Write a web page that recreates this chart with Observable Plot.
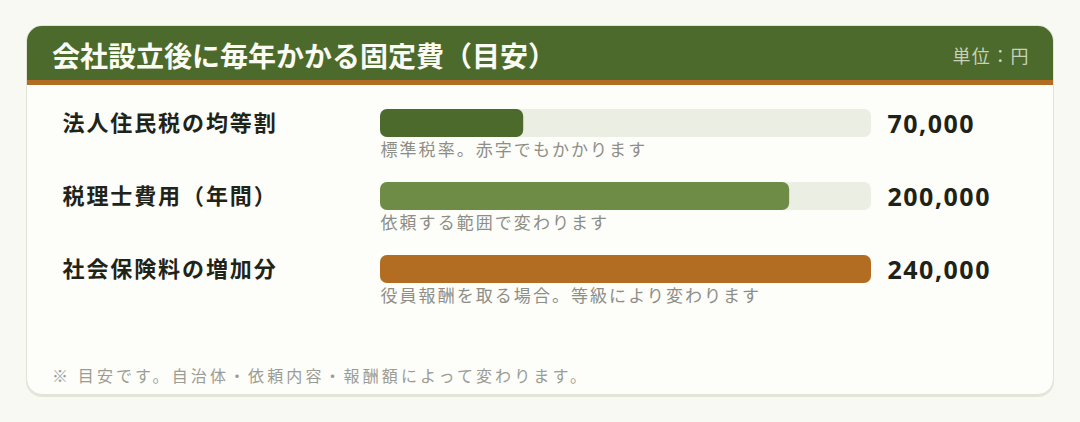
<!DOCTYPE html>
<html><head><meta charset="utf-8">
<script src="https://cdn.jsdelivr.net/npm/d3@7"></script>
<script src="https://cdn.jsdelivr.net/npm/@observablehq/plot@0.6"></script>
<style>
html,body{margin:0;padding:0;}
body{width:1080px;height:422px;background:#f8f9f3;position:relative;overflow:hidden;font-family:"Noto Sans CJK JP","Noto Sans",sans-serif;}
.card{position:absolute;left:26px;top:25px;width:1028px;height:370px;box-sizing:border-box;background:#fdfdf9;border:1.5px solid #e1e5d7;border-radius:16px;box-shadow:0 2px 0 #e2e6d8;overflow:hidden;}
.header{height:54px;background:#4b6a2b;border-bottom:5px solid #b46c22;display:flex;align-items:center;justify-content:space-between;padding:4px 23px 0 25px;box-sizing:content-box;margin-top:-4px;}
.title{color:#fbfbf4;font-size:28px;font-weight:bold;letter-spacing:0;position:relative;top:2px;}
.unit{color:#c9d1ba;font-size:18px;letter-spacing:1.4px;position:relative;top:2px;}
.note{position:absolute;left:52px;top:363px;font-size:16px;color:#9b9c94;letter-spacing:3.1px;line-height:24px;}
#chart{position:absolute;left:27px;top:84px;}
</style>
</head><body>
<div class="card">
  <div class="header"><div class="title" id="title"></div><div class="unit" id="unit"></div></div>
</div>
<div id="chart"></div>
<div class="note" id="note"></div>
<script>
const titleText = "会社設立後に毎年かかる固定費（目安）";
const unitText = "単位：円";
const footnoteText = "※ 目安です。自治体・依頼内容・報酬額によって変わります。";
const categories = ["法人住民税の均等割", "税理士費用（年間）", "社会保険料の増加分"];
const values = [70000, 200000, 240000];
const notes = ["標準税率。赤字でもかかります", "依頼する範囲で変わります", "役員報酬を取る場合。等級により変わります"];
const colors = ["#4b6a2b", "#6e8c46", "#b26d23"];
const scaleMax = 240000;

document.getElementById("title").textContent = titleText;
document.getElementById("unit").textContent = unitText;
document.getElementById("note").textContent = footnoteText;

const rows = categories.map((c, i) => ({category: c, value: values[i], note: notes[i], color: colors[i]}));
const fmt = d3.format(",");

const chart = Plot.plot({
  width: 1027,
  height: 230,
  margin: 0,
  style: {background: "transparent", overflow: "visible"},
  x: {domain: [0, scaleMax], range: [353, 844], axis: null},
  y: {domain: categories, range: [24, 200], paddingInner: 0.6216, paddingOuter: 0, axis: null},
  color: {type: "identity"},
  marks: [
    Plot.barX(rows, {x1: 0, x2: scaleMax, y: "category", fill: "#ebeee3", rx: 7}),
    Plot.barX(rows, {x1: 0, x2: "value", y: "category", fill: "color", rx: 7}),
    Plot.text(rows, {y: "category", text: "category", frameAnchor: "left", dx: 35, textAnchor: "start",
      fontSize: 22, fontWeight: "bold", fill: "#1f2419", fontFamily: "'Noto Sans CJK JP', sans-serif"}),
    Plot.text(rows, {x: scaleMax, y: "category", text: d => fmt(d.value), dx: 16, dy: 1, textAnchor: "start",
      fontSize: 25, fontWeight: "bold", fill: "#1e2217", fontFamily: "'Noto Sans', 'Noto Sans CJK JP', sans-serif"}),
    Plot.text(rows, {x: 0, y: "category", text: "note", dy: 27, textAnchor: "start",
      fontSize: 17, fill: "#8d8e87", fontFamily: "'Noto Sans CJK JP', sans-serif"})
  ]
});
document.getElementById("chart").appendChild(chart);
const groups = chart.querySelectorAll('g[aria-label="text"]');
if (groups[0]) groups[0].setAttribute("letter-spacing", "1.9");
if (groups[1]) groups[1].setAttribute("letter-spacing", "1.5");
if (groups[2]) groups[2].setAttribute("letter-spacing", "2.05");
</script>
</body></html>
